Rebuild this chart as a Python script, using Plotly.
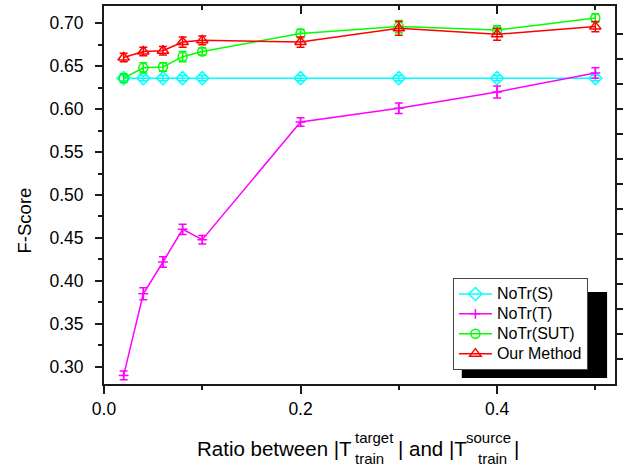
import plotly.graph_objects as go

# ---- data ----
ratios = [0.02, 0.04, 0.06, 0.08, 0.10, 0.20, 0.30, 0.40, 0.50]

notr_s = [0.636, 0.636, 0.636, 0.636, 0.636, 0.636, 0.636, 0.636, 0.636]
notr_s_err = [0.003, 0.003, 0.003, 0.003, 0.003, 0.003, 0.003, 0.003, 0.003]

notr_t = [0.290, 0.385, 0.422, 0.460, 0.448, 0.585, 0.601, 0.620, 0.642]
notr_t_err = [0.005, 0.007, 0.006, 0.006, 0.005, 0.005, 0.006, 0.007, 0.006]

notr_sut = [0.636, 0.648, 0.649, 0.661, 0.667, 0.688, 0.696, 0.692, 0.706]
notr_sut_err = [0.005, 0.006, 0.005, 0.006, 0.004, 0.005, 0.007, 0.005, 0.005]

our_method = [0.660, 0.667, 0.668, 0.678, 0.680, 0.678, 0.694, 0.687, 0.696]
our_method_err = [0.005, 0.005, 0.005, 0.006, 0.005, 0.006, 0.008, 0.007, 0.006]

series_names = ["NoTr(S)", "NoTr(T)", "NoTr(SUT)", "Our Method"]
y_ticks = [0.30, 0.35, 0.40, 0.45, 0.50, 0.55, 0.60, 0.65, 0.70]
x_ticks = [0.0, 0.2, 0.4]
x_tick_labels = ["0.0", "0.2", "0.4"]

# ---- layout geometry (pixels) ----
W, H = 628, 466
L, R, T, B = 104, 7, 6, 82
PW, PH = W - L - R, H - T - B


def px_x(px):
    return (px - L) / PW


def px_y(py):
    return (H - B - py) / PH


FONT = "Liberation Sans, Arial, Helvetica, sans-serif"

fig = go.Figure()

styles = [
    (notr_s, notr_s_err, "#00ffff", "diamond-open", 10),
    (notr_t, notr_t_err, "#ff00ff", "cross-thin-open", 7),
    (notr_sut, notr_sut_err, "#00ff00", "circle-open", 9),
    (our_method, our_method_err, "#ff0000", "triangle-up-open", 10),
]

for name, (vals, errs, col, sym, sz) in zip(series_names, styles):
    fig.add_trace(go.Scatter(
        x=ratios, y=vals, name='<span style="font-size:16px">%s</span>' % name,
        mode="lines+markers",
        line=dict(color=col, width=1.5),
        marker=dict(symbol=sym, size=sz, color=col, line=dict(color=col, width=1.5)),
        error_y=dict(type="data", array=errs, visible=True, color=col, thickness=1.5, width=4),
    ))

# dummy traces to activate the secondary axes
fig.add_trace(go.Scatter(x=[], y=[], xaxis="x2", yaxis="y", showlegend=False, hoverinfo="skip"))
fig.add_trace(go.Scatter(x=[], y=[], xaxis="x", yaxis="y2", showlegend=False, hoverinfo="skip"))

AX = "#1a1a1a"

fig.update_layout(
    width=W, height=H,
    margin=dict(l=L, r=R, t=T, b=B, pad=0),
    paper_bgcolor="white", plot_bgcolor="white",
    font=dict(family=FONT, size=17.5, color="black"),
    showlegend=True,
    legend=dict(
        x=px_x(457), y=px_y(278), xanchor="left", yanchor="top",
        bgcolor="white", bordercolor="#444", borderwidth=1,
        font=dict(family=FONT, size=13, color="black"),
        traceorder="normal", itemwidth=33,
    ),
    xaxis=dict(
        range=[0, 0.52], tickvals=x_ticks, ticktext=x_tick_labels,
        showline=True, linecolor=AX, linewidth=2, mirror=False,
        ticks="outside", ticklen=8, tickwidth=2, tickcolor=AX,
        minor=dict(tickvals=[0.1, 0.3, 0.5], ticks="outside", ticklen=4, tickwidth=2, tickcolor=AX),
        showgrid=False, zeroline=False,
        tickfont=dict(size=17.5),
    ),
    xaxis2=dict(
        overlaying="x", side="top", anchor="y",
        range=[0, 0.52], tickvals=[0.2, 0.4], showticklabels=False,
        showline=True, linecolor=AX, linewidth=2,
        ticks="inside", ticklen=8, tickwidth=2, tickcolor=AX,
        minor=dict(tickvals=[0.1, 0.3, 0.5], ticks="inside", ticklen=4, tickwidth=2, tickcolor=AX),
        showgrid=False, zeroline=False,
    ),
    yaxis=dict(
        range=[0.28, 0.72], tickvals=y_ticks, tickformat=".2f",
        showline=True, linecolor=AX, linewidth=2, mirror=True,
        ticks="outside", ticklen=7, tickwidth=2, tickcolor=AX,
        minor=dict(dtick=0.025, tick0=0.275, ticks="outside", ticklen=4, tickwidth=2, tickcolor=AX),
        showgrid=False, zeroline=False,
        ticklabelstandoff=8,
        tickfont=dict(size=17.5),
    ),
    yaxis2=dict(
        overlaying="y", side="right", anchor="x",
        range=[0, 15.12], tickvals=list(range(1, 15)), showticklabels=False,
        showline=False, ticks="outside", ticklen=7, tickwidth=2, tickcolor=AX,
        showgrid=False, zeroline=False,
    ),
)

# legend shadow
fig.add_shape(type="rect", xref="paper", yref="paper",
              x0=px_x(466), x1=px_x(613), y0=px_y(378), y1=px_y(292),
              fillcolor="black", line=dict(width=0), layer="above")

# y axis title
fig.add_annotation(text="F-Score", xref="paper", yref="paper",
                   x=px_x(23.5), y=px_y(220), xanchor="center", yanchor="middle",
                   textangle=-90, showarrow=False, font=dict(size=18.5))

# x axis title built from pieces (stacked super/subscripts)
MAIN = 20.5
SMALL = 15
pieces = [
    ("Ratio between |T", 356, "right", 448.5, MAIN),
    ("target", 357, "left", 437.5, SMALL),
    ("train", 357, "left", 458, SMALL),
    ("| and |T", 400, "left", 448.5, MAIN),
    ("source", 469, "left", 437.5, SMALL),
    ("train", 481, "left", 458, SMALL),
    ("|", 518, "left", 448.5, MAIN),
]
for txt, xp, anc, yp, fs in pieces:
    fig.add_annotation(text=txt, xref="paper", yref="paper", x=px_x(xp), y=px_y(yp),
                       xanchor=anc, yanchor="middle", showarrow=False,
                       font=dict(size=fs), borderpad=0)

fig.write_html("out.html", config={"displayModeBar": False},
               post_script="document.body.style.margin='0';document.body.style.overflow='hidden';")
